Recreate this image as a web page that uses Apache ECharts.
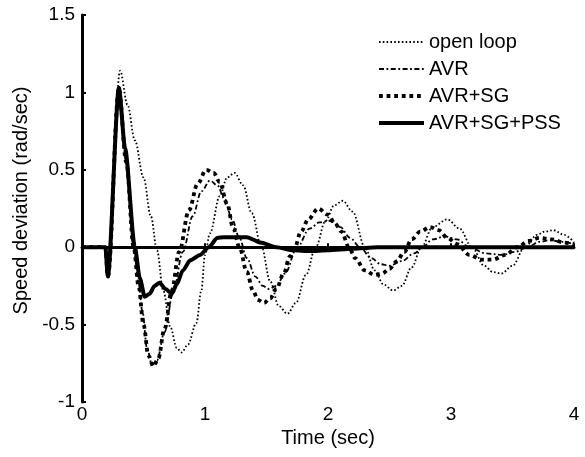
<!DOCTYPE html>
<html>
<head>
<meta charset="utf-8">
<script src="https://cdn.jsdelivr.net/npm/echarts@6/dist/echarts.min.js"></script>
<style>html,body{margin:0;padding:0;background:#fff}#c{width:585px;height:457px}</style>
</head>
<body>
<div id="c"></div>
<script>
const seriesNames = ['open loop', 'AVR', 'AVR+SG', 'AVR+SG+PSS'];
const xTicks = [0, 1, 2, 3, 4];
const yTicks = [-1, -0.5, 0, 0.5, 1, 1.5];

const openLoop = [[0,0],[0.19,0],[0.21,-0.19],[0.31,1.14],[0.37,0.92],[0.43,0.69],[0.5,0.45],[0.56,0.2],[0.61,-0.02],[0.66,-0.28],[0.72,-0.52],[0.77,-0.65],[0.81,-0.68],[0.86,-0.63],[0.93,-0.49],[0.97,-0.28],[1.0,-0.05],[1.04,0.09],[1.12,0.33],[1.18,0.45],[1.24,0.48],[1.31,0.4],[1.38,0.22],[1.46,0.0],[1.53,-0.22],[1.6,-0.38],[1.67,-0.43],[1.74,-0.36],[1.82,-0.18],[1.9,0.0],[1.98,0.17],[2.05,0.27],[2.12,0.30],[2.2,0.23],[2.3,0.0],[2.38,-0.15],[2.45,-0.24],[2.53,-0.28],[2.6,-0.25],[2.68,-0.13],[2.76,0.0],[2.85,0.13],[2.97,0.18],[3.07,0.12],[3.17,0.0],[3.27,-0.12],[3.34,-0.16],[3.41,-0.17],[3.5,-0.12],[3.6,0.0],[3.7,0.08],[3.76,0.1],[3.83,0.11],[3.92,0.08],[4.0,0.03]];

const avr = [[0,0],[0.19,0],[0.21,-0.19],[0.3,1.02],[0.36,0.55],[0.42,0.0],[0.46,-0.23],[0.49,-0.41],[0.53,-0.66],[0.57,-0.76],[0.61,-0.73],[0.67,-0.55],[0.74,-0.3],[0.82,-0.03],[0.9,0.2],[0.97,0.36],[1.04,0.43],[1.1,0.4],[1.16,0.31],[1.22,0.18],[1.28,0.06],[1.34,-0.07],[1.41,-0.19],[1.47,-0.25],[1.52,-0.27],[1.58,-0.25],[1.65,-0.17],[1.75,0.0],[1.85,0.12],[1.93,0.16],[2.01,0.17],[2.1,0.13],[2.18,0.06],[2.26,0.0],[2.35,-0.07],[2.43,-0.11],[2.5,-0.12],[2.6,-0.09],[2.7,-0.04],[2.77,0.0],[2.85,0.05],[2.95,0.07],[3.05,0.05],[3.15,0.0],[3.28,-0.04],[3.42,-0.05],[3.52,-0.03],[3.62,0.0],[3.72,0.035],[3.8,0.045],[3.9,0.035],[4.0,0.02]];

const avrSg = [[0,0],[0.19,0],[0.21,-0.19],[0.3,1.02],[0.36,0.55],[0.42,0.0],[0.46,-0.25],[0.5,-0.5],[0.54,-0.7],[0.58,-0.77],[0.62,-0.72],[0.67,-0.53],[0.73,-0.28],[0.79,-0.03],[0.87,0.24],[0.94,0.41],[1.01,0.5],[1.07,0.48],[1.12,0.42],[1.18,0.28],[1.23,0.12],[1.28,0.0],[1.34,-0.16],[1.39,-0.28],[1.43,-0.34],[1.48,-0.36],[1.53,-0.33],[1.58,-0.27],[1.64,-0.17],[1.69,-0.06],[1.73,0.0],[1.78,0.1],[1.84,0.18],[1.92,0.25],[2.0,0.21],[2.06,0.15],[2.11,0.1],[2.17,0.0],[2.22,-0.07],[2.3,-0.15],[2.38,-0.18],[2.44,-0.17],[2.5,-0.14],[2.56,-0.09],[2.62,-0.03],[2.68,0.05],[2.75,0.1],[2.83,0.13],[2.9,0.11],[2.97,0.06],[3.05,0.02],[3.15,-0.05],[3.25,-0.08],[3.34,-0.08],[3.44,-0.05],[3.54,0.0],[3.63,0.04],[3.72,0.06],[3.82,0.05],[3.92,0.03],[4.0,0.02]];

const avrSgPss = [[0,0],[0.19,0],[0.21,-0.19],[0.3,1.03],[0.35,0.64],[0.43,0.0],[0.47,-0.2],[0.51,-0.32],[0.55,-0.3],[0.59,-0.25],[0.63,-0.23],[0.68,-0.27],[0.73,-0.3],[0.77,-0.24],[0.82,-0.15],[0.88,-0.085],[0.96,-0.05],[1.03,0.0],[1.1,0.06],[1.15,0.065],[1.34,0.065],[1.45,0.03],[1.58,0.0],[1.72,-0.02],[1.85,-0.025],[2.0,-0.02],[2.2,-0.01],[2.4,0.0],[4.0,0.0]];

const chart = echarts.init(document.getElementById('c'), null, {renderer: 'canvas'});
const font = 'Liberation Sans, Arial, sans-serif';
const lineDefs = [
  {data: openLoop, width: 1.8, type: [1.6, 2.2], smooth: 0.35},
  {data: avr, width: 1.8, type: [5, 2.5, 1.8, 2.5], smooth: 0.35},
  {data: avrSg, width: 3.8, type: [3.8, 3.8], smooth: 0.35},
  {data: avrSgPss, width: 4, type: 'solid', smooth: 0.25}
];
chart.setOption({
  animation: false,
  backgroundColor: '#fff',
  textStyle: {fontFamily: font},
  grid: {left: 82, right: 11, top: 15, bottom: 55, containLabel: false, outerBoundsMode: 'none'},
  legend: {
    orient: 'vertical', left: 372, top: 27, itemWidth: 45, itemHeight: 14, itemGap: 7,
    textStyle: {fontSize: 20, color: '#000', fontFamily: font},
    data: seriesNames.map((n, i) => ({
      name: n,
      itemStyle: {opacity: 0},
      lineStyle: {color: '#000', width: lineDefs[i].width, type: lineDefs[i].type, cap: 'butt', opacity: 1}
    }))
  },
  xAxis: {
    type: 'value', min: xTicks[0], max: xTicks[xTicks.length-1], interval: 1,
    name: 'Time (sec)', nameLocation: 'middle', nameGap: 25,
    nameTextStyle: {fontSize: 20, color: '#000', fontFamily: font},
    axisLine: {lineStyle: {color: '#000', width: 3}},
    axisTick: {inside: true, length: 4, lineStyle: {color: '#000', width: 2}},
    axisLabel: {fontSize: 19, color: '#000', margin: 3, fontFamily: font},
    splitLine: {show: false}
  },
  yAxis: {
    type: 'value', min: yTicks[0], max: yTicks[yTicks.length-1], interval: 0.5,
    name: 'Speed deviation (rad/sec)', nameLocation: 'middle', nameGap: 50, nameRotate: 90,
    nameTextStyle: {fontSize: 20, color: '#000', fontFamily: font, padding: [0, 0, 0, 16]},
    axisLine: {lineStyle: {color: '#000', width: 3}},
    axisTick: {inside: true, length: 4, lineStyle: {color: '#000', width: 2}},
    axisLabel: {fontSize: 19, color: '#000', margin: 7, fontFamily: font},
    splitLine: {show: false}
  },
  series: lineDefs.map((d, i) => ({
    name: seriesNames[i], type: 'line', data: d.data, symbol: 'none',
    smooth: d.smooth, smoothMonotone: 'x', z: 10 - i,
    lineStyle: {color: '#000', width: d.width, type: d.type, cap: 'butt'},
    itemStyle: {color: '#000'}
  }))
});
</script>
</body>
</html>
